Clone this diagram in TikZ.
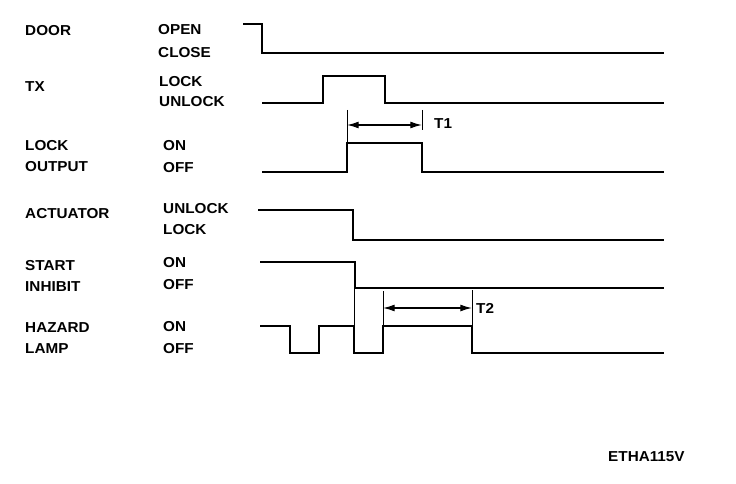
\documentclass[tikz,border=0pt]{standalone}
\usepackage{fontspec}
\setmainfont{Liberation Sans}[FakeStretch=1.06]
\usetikzlibrary{positioning,arrows.meta}

\begin{document}
\begin{tikzpicture}[
    x=0.03cm, y=-0.03cm,
    siglab/.style={font=\bfseries\fontsize{12.3}{14}\selectfont, anchor=west, inner sep=0pt},
    statelab/.style={font=\bfseries\fontsize{12.3}{14}\selectfont, anchor=west, inner sep=0pt},
    wave/.style={line width=2.2pt, line join=miter},
    guide/.style={line width=0.6pt},
    span/.style={{Latex[length=10pt,width=6pt]}-{Latex[length=10pt,width=6pt]}, line width=1.2pt},
]
\useasboundingbox (0,0) rectangle (736,484);

% signal names
\node[siglab] (door) at (25,31) {DOOR};
\node[siglab] (tx) at (25,87) {TX};
\node[siglab] (lockout) at (25,146) {LOCK};
\node[siglab] (output) at (25,167) {OUTPUT};
\node[siglab] (act) at (25,214) {ACTUATOR};
\node[siglab] (start) at (25,266) {START};
\node[siglab] (inhibit) at (25,287) {INHIBIT};
\node[siglab] (hazard) at (25,328) {HAZARD};
\node[siglab] (lamp) at (25,349) {LAMP};

% signal states
\node[statelab] (open) at (158,30) {OPEN};
\node[statelab] (close) at (158,53) {CLOSE};
\node[statelab] (txlock) at (159,82) {LOCK};
\node[statelab] (txunlock) at (159,102) {UNLOCK};
\node[statelab] (lon) at (163,146) {ON};
\node[statelab] (loff) at (163,168) {OFF};
\node[statelab] (aunlock) at (163,209) {UNLOCK};
\node[statelab] (alock) at (163,230) {LOCK};
\node[statelab] (son) at (163,263) {ON};
\node[statelab] (soff) at (163,285) {OFF};
\node[statelab] (hon) at (163,327) {ON};
\node[statelab] (hoff) at (163,349) {OFF};

% waveforms
\draw[wave] (243,24) -- (262,24) -- (262,53) -- (664,53);
\draw[wave] (262,103) -- (323,103) -- (323,76) -- (385,76) -- (385,103) -- (664,103);
\draw[wave] (262,172) -- (347,172) -- (347,143) -- (422,143) -- (422,172) -- (664,172);
\draw[wave] (258,210) -- (353,210) -- (353,240) -- (664,240);
\draw[wave] (260,262) -- (355,262) -- (355,288) -- (664,288);
\draw[wave] (260,326) -- (290,326) -- (290,353) -- (319,353) -- (319,326)
    -- (354,326) -- (354,353) -- (383,353) -- (383,326) -- (472,326)
    -- (472,353) -- (664,353);

% T1
\coordinate (t1a) at (347,110);
\coordinate (t1b) at (422,110);
\draw[guide] (t1a) -- (347,143);
\draw[guide] (t1b) -- (422,130);
\draw[span] (347,125) -- (422,125);
\node[statelab] (t1) at (434,124) {T1};

% T2
\coordinate (t2a) at (354,288);
\coordinate (t2b) at (383,291);
\coordinate (t2c) at (472,290);
\draw[guide] (t2a) -- (354,326);
\draw[guide] (t2b) -- (383,326);
\draw[guide] (t2c) -- (472,326);
\draw[span] (383,308) -- (472,308);
\node[statelab] (t2) at (476,308) {T2};

\node[statelab] (fig) at (608,457) {ETHA115V};
\end{tikzpicture}
\end{document}
